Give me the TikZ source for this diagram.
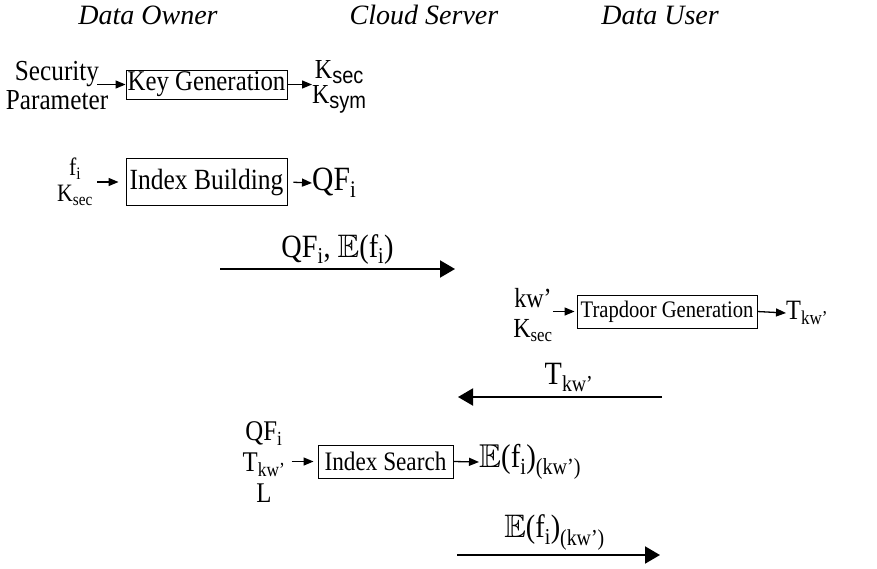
\documentclass[tikz,border=0pt]{standalone}
\usepackage{fontspec}
\usepackage{amssymb}
\setmainfont{Liberation Serif}[FakeStretch=0.87]
\setsansfont{Liberation Sans}[FakeStretch=0.87]
\newfontfamily\rolefont{Liberation Serif}
\usetikzlibrary{arrows.meta, positioning}

\newcommand{\bigsub}[1]{\raisebox{-5pt}{\fontsize{23}{23}\sffamily #1}}
\newcommand{\txtsize}[2]{\fontsize{#1}{#2}\selectfont\lineskiplimit=-40pt}

\tikzset{
  role/.style={font=\fontsize{28}{30}\selectfont\rolefont\itshape},
  txt/.style={inner sep=0pt, align=center},
  proc/.style={draw, line width=0.9pt, inner sep=0pt},
  flow/.style={-{Triangle[length=10pt, width=8pt]}, line width=1.3pt},
  msg/.style={-{Triangle[length=15pt, width=17pt]}, line width=2pt}
}

\begin{document}
\begin{tikzpicture}[x=1pt, y=-1pt]
\useasboundingbox (0,0) rectangle (877,568);

% The roles
\node [role] (owner) at (148,15) {Data Owner};
\node [role] (cloud) at (424,15) {Cloud Server};
\node [role] (user) at (660,15) {Data User};

% Key generation
\node [proc, minimum width=161pt, minimum height=29pt, font=\txtsize{28.5}{30}] (keygen) at (206.5,84.5) {Key Generation};
\node [txt, font=\txtsize{29}{29}] (secpar) at (57,86) {Security\\Parameter};
\node [txt, anchor=west, font=\txtsize{27.5}{25}] (keys) at (312,87) {K\bigsub{sec}\\K\bigsub{sym}};
\draw [flow] ([xshift=-11pt]secpar.east |- keygen.west) -- (keygen.west);
\draw [flow] (keygen.east) -- (keys.west |- keygen.east);

% Index building
\node [proc, minimum width=161pt, minimum height=47pt, font=\txtsize{29.3}{31}] (build) at (206.5,182) {Index Building};
\node [txt, font=\txtsize{25}{26}] (fkey) at (75,182) {f\textsubscript{i}\\K\textsubscript{sec}};
\node [txt, anchor=west, font=\txtsize{34}{36}] (qf) at (312,183) {QF\textsubscript{i}};
\draw [flow, shorten <=4pt, shorten >=7pt] (fkey.east |- build.west) -- (build.west);
\draw [flow, shorten <=6pt] (build.east) -- (qf.west);

% Upload
\coordinate (upA) at (220,269);
\coordinate (upB) at (455,269);
\draw [msg] (upA) -- node[txt, above=4pt, font=\txtsize{32.5}{34}] {QF\textsubscript{i}, $\mathbb{E}$(f\textsubscript{i})} (upB);

% Trapdoor generation
\node [proc, minimum width=180pt, minimum height=33pt, font=\txtsize{23.7}{25}] (trap) at (667,311.5) {Trapdoor Generation};
\node [txt, font=\txtsize{27.6}{30}] (kwkey) at (533,315) {kw'\\K\textsubscript{sec}};
\node [txt, anchor=west, font=\txtsize{28}{30}] (tkw) at (786,313) {T\textsubscript{kw'}};
\draw [flow, shorten >=2pt] (kwkey.east |- trap.west) -- (trap.west);
\draw [flow] (trap.east) -- (tkw.west);

% Query
\coordinate (qA) at (662,397);
\coordinate (qB) at (458,397);
\draw [msg] (qA) -- node[txt, above=4pt, xshift=9pt, font=\txtsize{32.5}{34}] {T\textsubscript{kw'}} (qB);

% Index search
\node [proc, minimum width=135pt, minimum height=33pt, font=\txtsize{26.7}{28}] (search) at (385.5,461.5) {Index Search};
\node [txt, font=\txtsize{28.5}{31}] (inputs) at (264,462) {QF\textsubscript{i}\\T\textsubscript{kw'}\\L};
\node [txt, anchor=west, font=\txtsize{33}{35}] (result) at (479,462) {$\mathbb{E}$(f\textsubscript{i})\textsubscript{(kw')}};
\draw [flow, shorten <=6pt, shorten >=4pt] (inputs.east |- search.west) -- (search.west);
\draw [flow] (search.east) -- (result.west);

% Result
\coordinate (rA) at (457,555);
\coordinate (rB) at (660,555);
\draw [msg] (rA) -- node[txt, above=4pt, xshift=-4pt, font=\txtsize{32.5}{34}] {$\mathbb{E}$(f\textsubscript{i})\textsubscript{(kw')}} (rB);

\end{tikzpicture}
\end{document}
